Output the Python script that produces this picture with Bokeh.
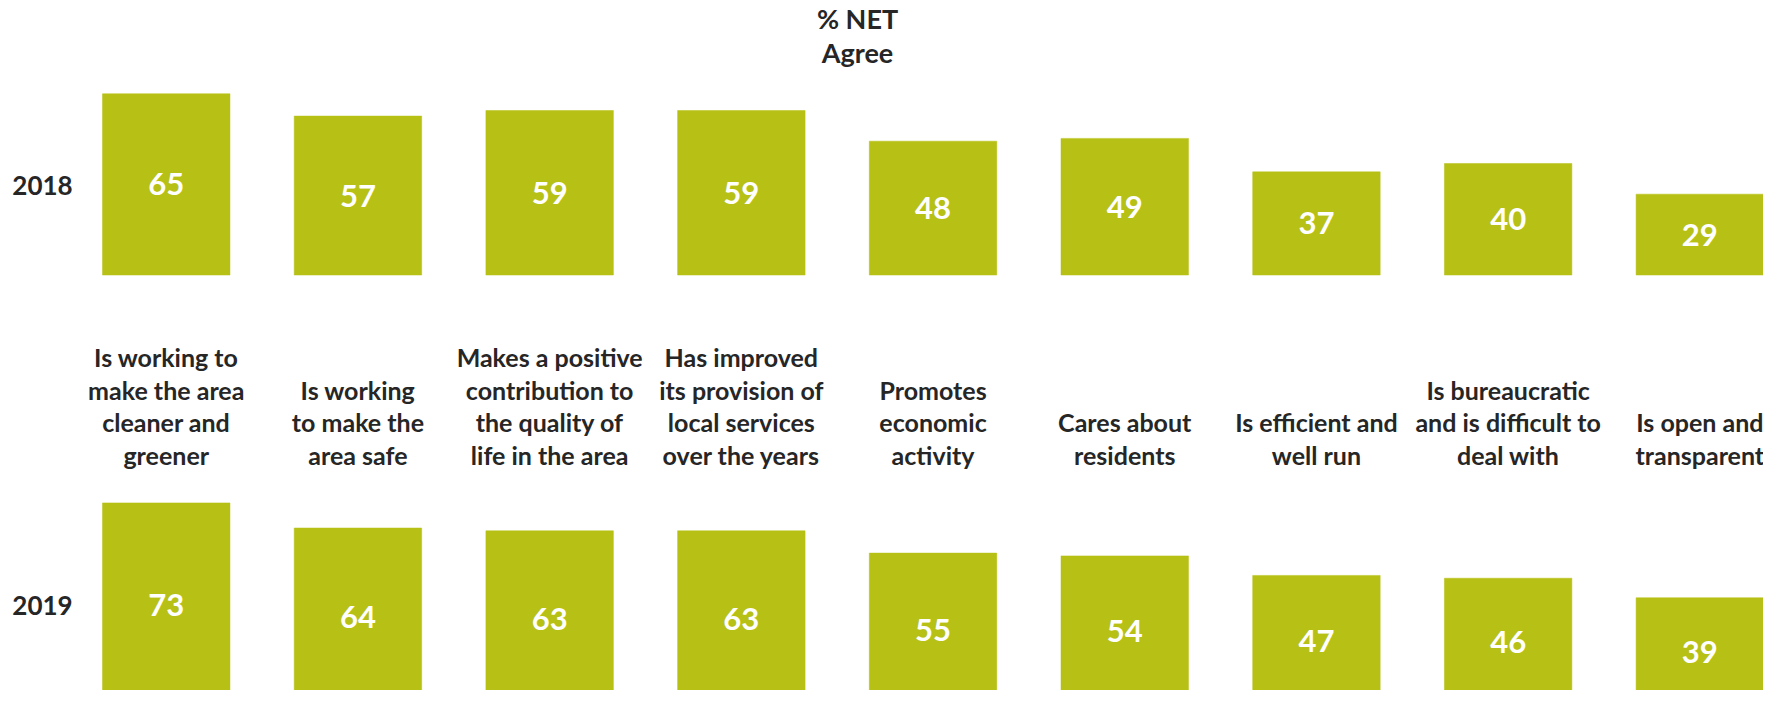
from bokeh.plotting import figure
from bokeh.models import ColumnDataSource, Range1d
from bokeh.core.properties import value
from bokeh.embed import file_html
from bokeh.resources import INLINE

# ---------------- data ----------------
categories = [
    ["Is working to", "make the area", "cleaner and", "greener"],
    ["Is working", "to make the", "area safe"],
    ["Makes a positive", "contribution to", "the quality of", "life in the area"],
    ["Has improved", "its provision of", "local services", "over the years"],
    ["Promotes", "economic", "activity"],
    ["Cares about", "residents"],
    ["Is efficient and", "well run"],
    ["Is bureaucratic", "and is difficult to", "deal with"],
    ["Is open and", "transparent"],
]
years = ["2018", "2019"]
values_2018 = [65, 57, 59, 59, 48, 49, 37, 40, 29]
values_2019 = [73, 64, 63, 63, 55, 54, 47, 46, 39]
header_lines = ["% NET", "Agree"]

# ---------------- style / layout ----------------
BAR_COLOR = "#B7C115"
TEXT_COLOR = "#262626"
FONT = value("Lato")
W, H = 1763, 690
ROW_BASE = {"2018": 154.7, "2019": 0.0}       # baseline of each row (value units)
YEAR_Y = {"2018": 186.8, "2019": 36.2}
LABEL_BOTTOM = 90.3
LINE_STEP = 11.62
BAR_W = 0.665

p = figure(width=W, height=H, output_backend="svg", toolbar_location=None,
           x_axis_type=None, y_axis_type=None, min_border=0,
           x_range=Range1d(-0.8646, 8.3321), y_range=Range1d(5.737, 253.14))
p.outline_line_color = None
p.xgrid.visible = False
p.ygrid.visible = False
p.background_fill_color = "white"
p.border_fill_color = "white"

series = {"2018": values_2018, "2019": values_2019}
for yr in years:
    vals = series[yr]
    base = ROW_BASE[yr]
    xs = list(range(len(vals)))
    src = ColumnDataSource(dict(
        x=xs,
        bottom=[base] * len(vals),
        top=[base + v for v in vals],
        mid=[base + v / 2 for v in vals],
        label=[str(v) for v in vals],
    ))
    p.vbar(x="x", width=BAR_W, bottom="bottom", top="top", source=src,
           fill_color=BAR_COLOR, line_color=BAR_COLOR, line_width=0.5)
    p.text(x="x", y="mid", text="label", source=src, text_font=FONT,
           text_font_style="bold", text_font_size="31px", text_color="white",
           text_align="center", text_baseline="middle")
    p.text(x=[-0.6456], y=[YEAR_Y[yr]], text=[yr], text_font=FONT,
           text_font_style="bold", text_font_size="26px", text_color=TEXT_COLOR,
           text_align="center", text_baseline="middle")

# category labels (bottom aligned, between rows)
lx, ly, lt = [], [], []
for i, lines in enumerate(categories):
    n = len(lines)
    for k, line in enumerate(lines):
        lx.append(i)
        ly.append(LABEL_BOTTOM + (n - 1 - k) * LINE_STEP)
        lt.append(line)
p.text(x=lx, y=ly, text=lt, text_font=FONT, text_font_style="bold",
       text_font_size="25px", text_color=TEXT_COLOR,
       text_align="center", text_baseline="alphabetic")

# header
p.text(x=[3.606, 3.606], y=[246.6, 234.4], text=header_lines, text_font=FONT,
       text_font_style="bold", text_font_size="27px", text_color=TEXT_COLOR,
       text_align="center", text_baseline="alphabetic")

open("out.html", "w").write(file_html(p, INLINE))
